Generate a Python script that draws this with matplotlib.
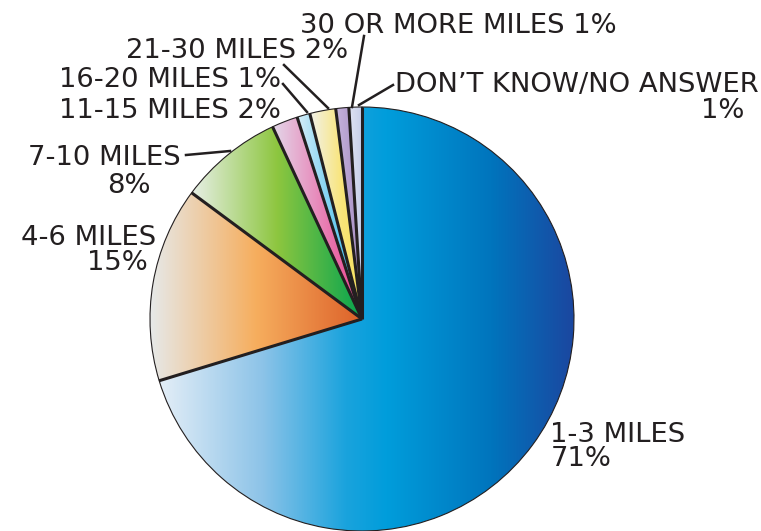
import matplotlib
matplotlib.use('Agg')
import matplotlib.pyplot as plt
import numpy as np
from matplotlib.colors import LinearSegmentedColormap

#%% data
labels = ['1-3 MILES', '4-6 MILES', '7-10 MILES', '11-15 MILES',
          '16-20 MILES', '21-30 MILES', '30 OR MORE MILES', 'DON\u2019T KNOW/NO ANSWER']
values = [71, 15, 8, 2, 1, 2, 1, 1]

# horizontal gradient stops per slice (left -> right)
grad_stops = [
    [(0, '#e4eef7'), (0.25, '#8cc3e8'), (0.45, '#1aa3dd'), (0.55, '#009ddb'), (0.8, '#0075bd'), (1, '#1b47a0')],
    [(0, '#e6e9e9'), (0.5, '#f6ae5e'), (1, '#dd6129')],
    [(0, '#e7efe6'), (0.5, '#8dc63f'), (1, '#05a44f')],
    [(0, '#e3d7e9'), (1, '#ec3d8c')],
    [(0, '#d8eef9'), (1, '#23b5ea')],
    [(0, '#f1f1ea'), (0.6, '#f9e57a'), (1, '#f5e05a')],
    [(0, '#c5b3db'), (1, '#a58bc3')],
    [(0, '#dfe3f3'), (1, '#c5cde9')],
]

txt_col = '#231f20'
H = 531

#%% figure
fig = plt.figure(figsize=(7.61, 5.31), dpi=100)
ax = fig.add_axes([0, 0, 1, 1])

cx, cy, r = 362, H - 319, 212
wedges, _ = ax.pie(values, startangle=90, counterclock=False, center=(cx, cy), radius=r,
                   wedgeprops=dict(facecolor='none', edgecolor='#231f20', linewidth=0.8),
                   frame=True)
ax.set_xlim(0, 761)
ax.set_ylim(0, H)
ax.set_aspect('equal')
ax.axis('off')

grad = np.linspace(0, 1, 256).reshape(1, -1)
for w, stops in zip(wedges, grad_stops):
    cmap = LinearSegmentedColormap.from_list('g', stops)
    bb = w.get_path().get_extents()
    im = ax.imshow(grad, cmap=cmap, aspect='auto', extent=[bb.x0, bb.x1, bb.y0, bb.y1],
                   interpolation='bilinear', zorder=0.5)
    im.set_clip_path(w)

# thick radial separators
for w in wedges:
    t = np.deg2rad(w.theta1)
    ax.plot([cx, cx + r * np.cos(t)], [cy, cy + r * np.sin(t)], color='#231f20',
            lw=2.2, solid_capstyle='butt', zorder=3)

#%% labels (x, baseline y in image pixels)
fs = 19.7
def lab(x, y, s, ha='left'):
    ax.text(x, H - y, s, fontsize=fs, color=txt_col, ha=ha, va='baseline')

lab(300, 33, '30 OR MORE MILES 1%')
lab(348, 58, '21-30 MILES 2%', ha='right')
lab(281, 87, '16-20 MILES 1%', ha='right')
lab(281, 118, '11-15 MILES 2%', ha='right')
lab(181, 165, '7-10 MILES', ha='right')
lab(151, 193, '8%', ha='right')
lab(156, 245, '4-6 MILES', ha='right')
lab(148, 270, '15%', ha='right')
lab(550, 442, '1-3 MILES')
lab(551, 466, '71%')
lab(395, 92, 'DON\u2019T KNOW/NO ANSWER')
lab(744, 118, '1%', ha='right')

# leader lines
leaders = [
    [(186, 155), (230, 151)],
    [(283, 84), (307, 112)],
    [(284, 65), (328, 108)],
    [(364, 36), (352, 107)],
    [(393, 85), (359, 105)],
]
for (x0, y0), (x1, y1) in leaders:
    ax.plot([x0, x1], [H - y0, H - y1], color='#231f20', lw=1.8, zorder=4)

fig.savefig('out.png', dpi=100)
